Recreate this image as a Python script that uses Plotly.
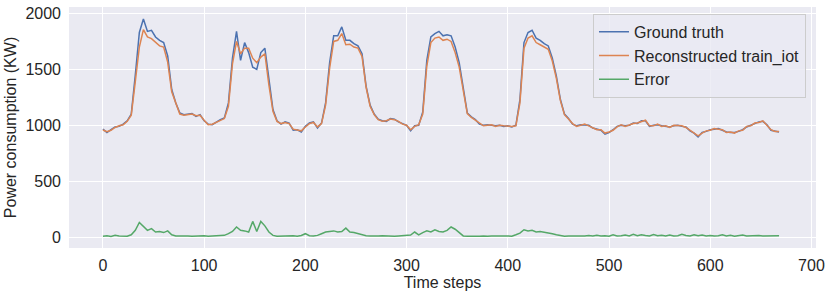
import plotly.graph_objects as go

time_steps = list(range(0, 672, 4))

ground_truth = [
    966, 935, 960, 985, 990, 1010, 1040, 1100, 1450, 1830,
    1950, 1840, 1850, 1790, 1760, 1740, 1620, 1320, 1200, 1110,
    1095, 1100, 1105, 1080, 1095, 1040, 1010, 1005, 1030, 1050,
    1065, 1200, 1600, 1840, 1580, 1740, 1650, 1520, 1500, 1650,
    1690, 1400, 1140, 1040, 1010, 1030, 1020, 955, 960, 940,
    990, 1020, 1030, 975, 1020, 1200, 1560, 1800, 1800, 1880,
    1760, 1760, 1730, 1710, 1640, 1350, 1180, 1100, 1055, 1040,
    1035, 1060, 1055, 1030, 1015, 1000, 950, 995, 1000, 1120,
    1580, 1790, 1820, 1840, 1800, 1810, 1800, 1700, 1560, 1340,
    1110, 1075, 1050, 1010, 1000, 1005, 1000, 995, 1000, 990,
    995, 985, 1000, 1230, 1740, 1830, 1850, 1780, 1760, 1730,
    1710, 1600, 1440, 1230, 1100, 1060, 1010, 995, 1005, 1005,
    1000, 975, 965, 955, 920, 935, 960, 990, 1000, 995,
    1000, 1020, 1015, 1040, 1040, 990, 1000, 1005, 995, 990,
    985, 995, 1000, 990, 985, 950, 930, 895, 935, 945,
    960, 965, 970, 955, 940, 935, 935, 945, 960, 985,
    1000, 1015, 1030, 1035, 1005, 955, 950, 940,
]

reconstructed = [
    958, 942, 955, 980, 995, 1005, 1035, 1090, 1390, 1700,
    1855, 1790, 1775, 1745, 1710, 1700, 1565, 1300, 1190, 1100,
    1090, 1095, 1100, 1085, 1090, 1045, 1005, 1010, 1025, 1045,
    1060, 1170, 1550, 1750, 1640, 1690, 1690, 1600, 1560, 1610,
    1640, 1360, 1125, 1035, 1015, 1025, 1015, 965, 955, 950,
    985, 1015, 1025, 985, 1015, 1180, 1510, 1750, 1760, 1820,
    1720, 1725, 1700, 1690, 1615, 1340, 1170, 1095, 1050, 1035,
    1040, 1055, 1050, 1035, 1010, 1000, 960, 990, 1005, 1100,
    1530, 1740, 1780, 1790, 1760, 1770, 1750, 1650, 1520, 1320,
    1105, 1070, 1045, 1015, 995, 1000, 1005, 990, 1000, 995,
    990, 990, 995, 1200, 1690, 1780, 1800, 1740, 1720, 1700,
    1680, 1575, 1420, 1220, 1095, 1055, 1015, 990, 1000, 1010,
    995, 980, 960, 960, 930, 940, 955, 985, 1005, 990,
    1005, 1015, 1020, 1035, 1045, 995, 995, 1010, 990, 995,
    980, 1000, 995, 995, 980, 955, 935, 905, 930, 950,
    955, 970, 965, 960, 935, 940, 930, 950, 955, 990,
    995, 1020, 1025, 1040, 1000, 960, 945, 945,
]

error = [
    8, 12, 6, 15, 10, 12, 8, 20, 60, 130,
    95, 60, 75, 45, 50, 40, 55, 20, 10, 12,
    8, 10, 6, 9, 8, 12, 8, 10, 7, 9,
    15, 30, 50, 90, 60, 55, 45, 140, 50, 140,
    100, 45, 15, 8, 10, 6, 9, 12, 8, 14,
    30, 12, 10, 15, 30, 45, 50, 55, 45, 50,
    80, 45, 40, 30, 20, 12, 10, 8, 9, 12,
    8, 10, 6, 9, 12, 15, 18, 45, 20, 40,
    55, 45, 65, 50, 45, 60, 90, 70, 40, 10,
    8, 10, 12, 8, 9, 6, 10, 8, 12, 9,
    10, 8, 20, 35, 65, 55, 60, 45, 50, 45,
    40, 30, 20, 12, 8, 10, 9, 12, 8, 10,
    14, 9, 15, 10, 12, 8, 20, 10, 12, 18,
    10, 25, 12, 20, 14, 10, 22, 12, 15, 9,
    18, 10, 12, 25, 14, 10, 20, 12, 18, 10,
    14, 9, 12, 20, 10, 15, 8, 12, 18, 10,
    12, 9, 14, 10, 12, 8, 10, 12,
]

series_names = ["Ground truth", "Reconstructed train_iot", "Error"]
series_colors = ["#4C72B0", "#DD8452", "#55A868"]

x_ticks = [0, 100, 200, 300, 400, 500, 600, 700]
y_ticks = [0, 500, 1000, 1500, 2000]

fig = go.Figure()
for name, vals, col in zip(series_names, [ground_truth, reconstructed, error], series_colors):
    fig.add_trace(go.Scatter(x=time_steps, y=vals, mode="lines", name=name,
                             line=dict(color=col, width=1.5)))

font_family = "Liberation Sans, Arial, sans-serif"
fig.update_layout(
    width=830, height=297,
    margin=dict(l=69, r=14, t=7, b=49),
    paper_bgcolor="white",
    plot_bgcolor="#EAEAF2",
    font=dict(family=font_family, size=16, color="#262626"),
    showlegend=True,
    legend=dict(x=0.9866, y=0.972, xanchor="right", yanchor="top",
                bgcolor="rgba(234,234,242,0.8)", bordercolor="#CCCCCC", borderwidth=1,
                font=dict(size=16, color="#262626"), itemwidth=30, tracegroupgap=0),
)
fig.update_xaxes(range=[-33.5, 704.5], tickvals=x_ticks, showgrid=True, gridcolor="white",
                 gridwidth=1.2, zeroline=False, showline=False, ticks="", automargin=False,
                 tickfont=dict(size=16), ticklabelstandoff=6,
                 title=dict(text="Time steps", font=dict(size=16), standoff=2))
fig.update_yaxes(range=[-98, 2058], tickvals=y_ticks, showgrid=True, gridcolor="white",
                 gridwidth=1.2, zeroline=False, showline=False, ticks="", automargin=False,
                 tickfont=dict(size=16), ticklabelstandoff=7,
                 title=dict(text="Power consumption (KW)", font=dict(size=16), standoff=4))

fig.write_html("out.html", config={"displayModeBar": False},
               post_script="document.body.style.margin='0';")
